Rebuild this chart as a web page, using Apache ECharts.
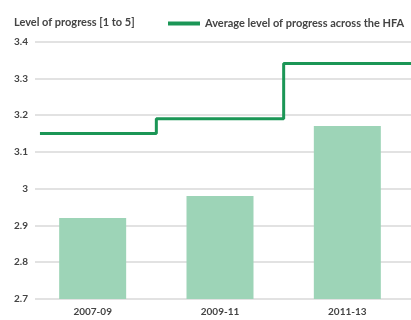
<!DOCTYPE html>
<html><head><meta charset="utf-8">
<script src="https://cdn.jsdelivr.net/npm/echarts@6/dist/echarts.min.js"></script>
<style>html,body{margin:0;padding:0;background:#fff}#c{width:411px;height:320px}</style>
</head><body><div id="c"></div>
<script>
const categories = ['2007-09', '2009-11', '2011-13'];
const barValues = [2.92, 2.98, 3.17];
const avgValues = [3.15, 3.19, 3.34];
const yTicks = [2.7, 2.8, 2.9, 3.0, 3.1, 3.2, 3.3, 3.4];
const lineStartX = 0.086;

const stepData = [];
avgValues.forEach((v, i) => {
  stepData.push([i === 0 ? lineStartX : i, v]);
  stepData.push([i + 1, v]);
});

const font = 'Lato, "Noto Sans", sans-serif';
const chart = echarts.init(document.getElementById('c'), null, {renderer: 'canvas'});
chart.setOption({
  animation: false,
  title: {text: 'Level of progress [1 to 5]', left: 9, top: 12,
    textStyle: {fontFamily: font, fontSize: 11, fontWeight: 'bold', color: '#444'}},
  legend: {data: [{name: 'Average level of progress across the HFA', icon: 'rect'}],
    left: 163, top: 13, itemWidth: 32, itemHeight: 4, itemGap: 8,
    textStyle: {fontFamily: font, fontSize: 11, fontWeight: 'bold', color: '#444'}},
  grid: [
    {left: 35, right: 0, top: 41.5, bottom: 21, containLabel: false},
    {left: 29, right: -3, top: 41.5, bottom: 21, containLabel: false}
  ],
  xAxis: [
    {type: 'category', gridIndex: 0, data: categories, show: false},
    {type: 'category', gridIndex: 1, data: categories, axisLine: {show: false}, axisTick: {show: false},
      axisLabel: {fontFamily: font, fontSize: 10, fontWeight: 'bold', color: '#444', margin: 8}},
    {type: 'value', gridIndex: 1, min: 0, max: 3, show: false}
  ],
  yAxis: [
    {type: 'value', gridIndex: 0, min: 2.7, max: 3.4, interval: 0.1,
      axisLine: {show: false}, axisTick: {show: false},
      axisLabel: {fontFamily: font, fontSize: 10, fontWeight: 'bold', color: '#444', margin: 7,
        formatter: v => { const t = yTicks.find(x => Math.abs(x - v) < 1e-6); return t === undefined ? '' : String(+t.toFixed(1)); }},
      splitLine: {lineStyle: {color: '#d9d9d9', width: 1.5}}},
    {type: 'value', gridIndex: 1, min: 2.7, max: 3.4, interval: 0.1, show: false, splitLine: {show: false}}
  ],
  series: [
    {type: 'bar', xAxisIndex: 1, yAxisIndex: 1, data: barValues, barWidth: 67,
      itemStyle: {color: '#9dd4b7'}},
    {name: 'Average level of progress across the HFA', type: 'line', xAxisIndex: 2, yAxisIndex: 1,
      data: stepData, symbol: 'none', lineStyle: {color: '#1b9656', width: 3}, itemStyle: {color: '#1b9656'}}
  ]
});
</script></body></html>
